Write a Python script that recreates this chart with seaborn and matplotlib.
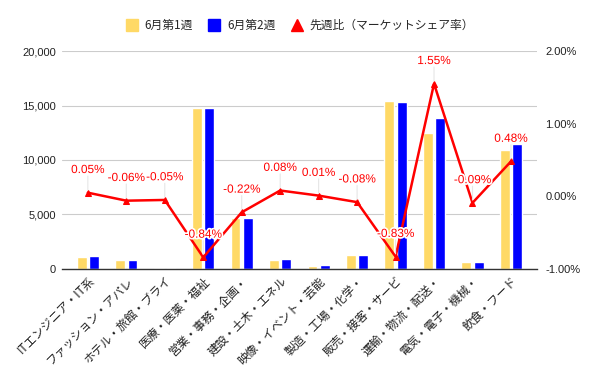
import matplotlib
matplotlib.use("Agg")
import matplotlib.pyplot as plt
import matplotlib.patheffects as pe
from matplotlib.lines import Line2D
import numpy as np
import pandas as pd
import seaborn as sns

# Data
categories = ["ITエンジニア・IT系", "ファッション・アパレ", "ホテル・旅館・ブライ", "医療・医薬・福祉",
              "営業・事務・企画・", "建設・土木・エネル", "映像・イベント・芸能", "製造・工場・化学・",
              "販売・接客・サービ", "運輸・物流・配送・", "電気・電子・機械・", "飲食・フード"]
week1 = [1130, 850, 120, 14770, 4700, 850, 300, 1300, 15420, 12500, 670, 10940]
week2 = [1220, 850, 120, 14800, 4720, 940, 400, 1300, 15330, 13870, 670, 11430]
share_change = [0.05, -0.06, -0.05, -0.84, -0.22, 0.08, 0.01, -0.08, -0.83, 1.55, -0.09, 0.48]
series_names = ["6月第1週", "6月第2週", "先週比（マーケットシェア率）"]

YELLOW = "#FFD966"
BLUE = "#0000FF"
RED = "#FF0000"

sns.set_theme(style="white")
plt.rcParams["font.family"] = ["Liberation Sans", "Noto Sans CJK JP", "DejaVu Sans"]
JP = ["Noto Sans CJK JP", "DejaVu Sans"]

df = pd.DataFrame({
    "category": categories * 2,
    "value": week1 + week2,
    "week": [series_names[0]] * len(categories) + [series_names[1]] * len(categories),
})

fig = plt.figure(figsize=(6, 3.71), dpi=100)
ax = fig.add_axes([0.103, 0.275, 0.792, 0.5875])

sns.barplot(data=df, x="category", y="value", hue="week", order=categories,
            palette=[YELLOW, BLUE], width=0.64, gap=0.2, ax=ax, legend=False,
            saturation=1)

ax.set_ylim(0, 20000)
ax.set_yticks([0, 5000, 10000, 15000, 20000])
ax.set_yticklabels([f"{v:,}" for v in [0, 5000, 10000, 15000, 20000]], fontsize=8, color="#222222")
ax.yaxis.grid(True, color="#CCCCCC", linewidth=0.8)
ax.set_axisbelow(True)
ax.set_xlabel("")
ax.set_ylabel("")
for s in ["top", "right", "left"]:
    ax.spines[s].set_visible(False)
ax.spines["bottom"].set_color("#333333")
ax.spines["bottom"].set_linewidth(1)
ax.tick_params(axis="both", length=0, pad=4)
ax.set_xticks(range(len(categories)))
ax.set_xticklabels(categories, rotation=45, ha="right", rotation_mode="anchor",
                   fontsize=8.5, family=JP, color="#222222")

# secondary axis for share change
ax2 = ax.twinx()
xs = np.arange(len(categories))
sns.lineplot(x=xs, y=share_change, ax=ax2, color=RED, linewidth=1.8,
             marker="^", markersize=5, markeredgecolor=RED)
ax2.set_ylim(-1, 2)
ax2.set_yticks([-1, 0, 1, 2])
ax2.set_yticklabels([f"{v:.2f}%" for v in [-1, 0, 1, 2]], fontsize=8, color="#222222")
ax2.tick_params(axis="y", length=0, pad=6)
for s in ax2.spines.values():
    s.set_visible(False)

for x, v in zip(xs, share_change):
    ax2.annotate("", xy=(x, v), xytext=(0, 12), textcoords="offset points",
                 xycoords="data",
                 arrowprops=dict(arrowstyle="-", color="#E6E6E6", linewidth=0.8,
                                 shrinkA=0, shrinkB=2))
    ax2.annotate(f"{v:.2f}%", xy=(x, v), xytext=(0, 12), textcoords="offset points",
                 ha="center", va="bottom", fontsize=8.5, color=RED,
                 path_effects=[pe.withStroke(linewidth=2.5, foreground="white")])

ax.set_xlim(-0.677, len(categories) - 1 + 0.677)

handles = [
    Line2D([], [], linestyle="none", marker="s", markersize=9, color=YELLOW),
    Line2D([], [], linestyle="none", marker="s", markersize=9, color=BLUE),
    Line2D([], [], linestyle="none", marker="^", markersize=8, color=RED),
]
fig.legend(handles, series_names, loc="center", bbox_to_anchor=(0.5, 0.932), ncol=3,
           frameon=False, prop={"family": JP, "size": 8.5}, handletextpad=0.6,
           columnspacing=1.3, handlelength=1.0)

fig.savefig("out.png", dpi=100)
